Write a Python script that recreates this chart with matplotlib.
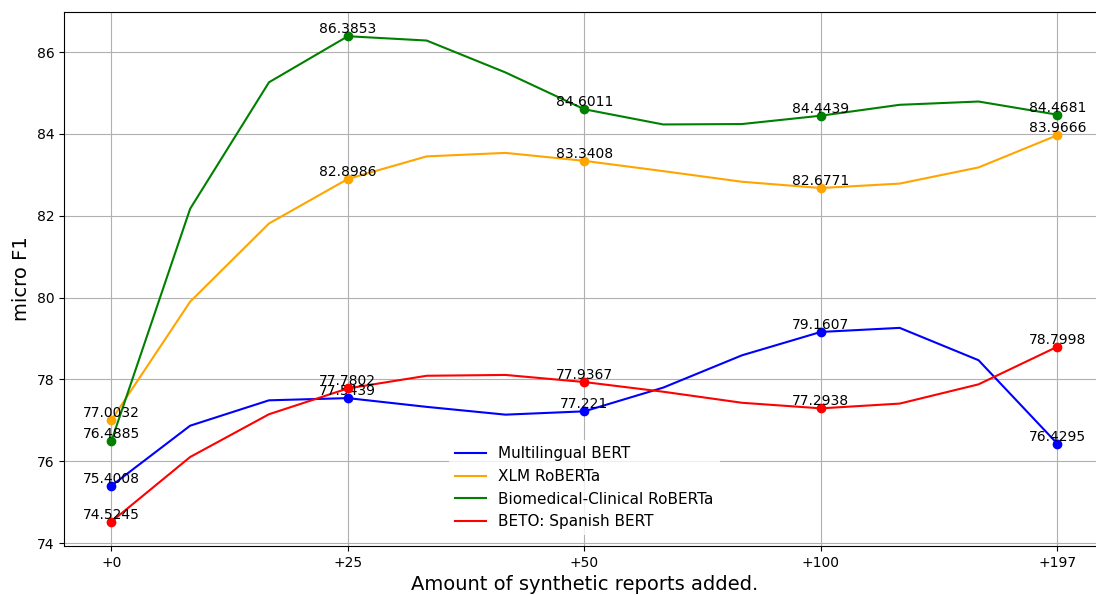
import numpy as np
import matplotlib
matplotlib.use("Agg")
import matplotlib.pyplot as plt

tick_labels = ['+0', '+25', '+50', '+100', '+197']
marker_idx = [0, 3, 6, 9, 12]

mbert = [75.4008, 76.87, 77.49, 77.5439, 77.33, 77.14, 77.221, 77.80, 78.59, 79.1607, 79.26, 78.47, 76.4295]
xlmr = [77.0032, 79.90, 81.81, 82.8986, 83.45, 83.535, 83.3408, 83.09, 82.83, 82.6771, 82.785, 83.18, 83.9666]
biomed = [76.4885, 82.17, 85.26, 86.3853, 86.28, 85.50, 84.6011, 84.23, 84.24, 84.4439, 84.71, 84.79, 84.4681]
beto = [74.5245, 76.105, 77.15, 77.7802, 78.09, 78.11, 77.9367, 77.70, 77.43, 77.2938, 77.41, 77.88, 78.7998]

series = [
    ("Multilingual BERT", mbert, "blue"),
    ("XLM RoBERTa", xlmr, "orange"),
    ("Biomedical-Clinical RoBERTa", biomed, "green"),
    ("BETO: Spanish BERT", beto, "red"),
]

fig = plt.figure(figsize=(10.96, 5.95), dpi=100)
ax = fig.add_axes([0.0584, 0.0824, 0.9495, 0.8975])

n = len(mbert)
x = np.arange(n) / 3.0
for name, vals, col in series:
    ax.plot(x, vals, color=col, label=name, lw=1.5)
    xm = [x[i] for i in marker_idx]
    ym = [vals[i] for i in marker_idx]
    ax.scatter(xm, ym, color=col, s=36, zorder=3)
    for xi, yi in zip(xm, ym):
        ax.text(xi, yi, str(round(yi, 4)), ha='center', va='bottom', fontsize=10)

ax.set_xticks([x[i] for i in marker_idx])
ax.set_xticklabels(tick_labels)
ax.grid(True)
ax.set_xlabel("Amount of synthetic reports added.", fontsize=14)
ax.set_ylabel("micro F1", fontsize=14)
leg = ax.legend(loc='lower center', fontsize=11, borderaxespad=0.7)
leg.get_frame().set_edgecolor('none')

fig.savefig("out.png", dpi=100)
